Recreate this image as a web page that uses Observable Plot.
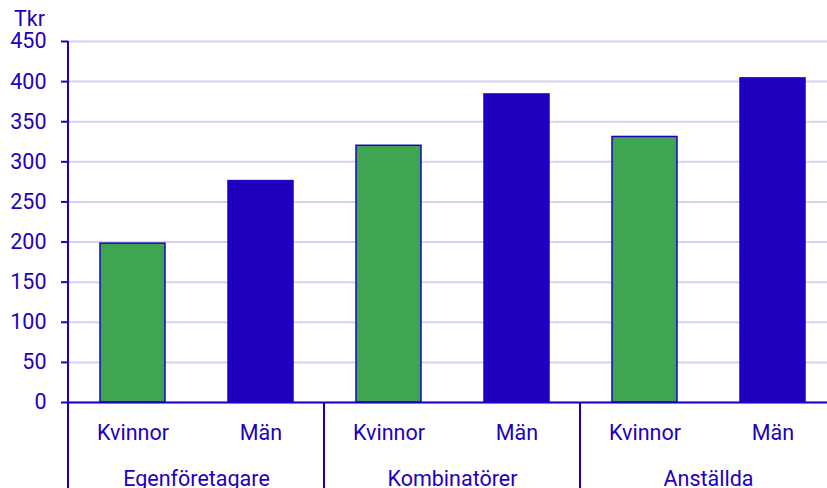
<!DOCTYPE html>
<html><head><meta charset="utf-8">
<script src="https://cdn.jsdelivr.net/npm/d3@7"></script>
<script src="https://cdn.jsdelivr.net/npm/@observablehq/plot@0.6"></script>
<style>html,body{margin:0;padding:0;background:#fff;overflow:hidden;} svg{max-width:none !important;}</style>
</head><body><div id="chart"></div>
<script>
const groups = ["Egenföretagare", "Kombinatörer", "Anställda"];
const genders = ["Kvinnor", "Män"];
const kvinnor = [198, 320, 331];
const man = [276, 384, 404];
const yTicks = [0, 50, 100, 150, 200, 250, 300, 350, 400, 450];
const unit = "Tkr";

const blue = "#1f00bf", green = "#3ea651", gridColor = "#d4d1f2";

const data = groups.flatMap((g, i) => [
  {group: g, gender: genders[0], value: kvinnor[i]},
  {group: g, gender: genders[1], value: man[i]}
]);

const plot = Plot.plot({
  width: 837, height: 488,
  marginLeft: 67.5, marginRight: 0, marginTop: 41, marginBottom: 86,
  style: {fontFamily: "Roboto, sans-serif", fontSize: "21.5px", color: blue, background: "#fff", maxWidth: "none"},
  facet: {data, x: "group"},
  fx: {domain: groups, padding: 0, label: null, tickSize: 0, tickPadding: 68, axis: "bottom"},
  x: {domain: genders, padding: 0, label: null, tickSize: 0, tickPadding: 22},
  y: {domain: [0, 450], label: null},
  color: {domain: genders, range: [green, blue]},
  marks: [
    Plot.gridY(yTicks, {stroke: gridColor, strokeOpacity: 1, strokeWidth: 2}),
    Plot.axisY(yTicks, {tickSize: 7, tickPadding: 15, strokeWidth: 2, label: null}),
    Plot.barY(data, {x: "gender", y: "value", fill: "gender", stroke: blue, strokeWidth: 1.5, insetLeft: 31.5, insetRight: 31.5}),
    Plot.ruleY([0], {stroke: blue, strokeWidth: 2})
  ]
});
document.getElementById("chart").appendChild(plot);

const svg = d3.select(plot);
const fxs = plot.scale("fx"), ys = plot.scale("y");
const fxApply = fxs.apply ? fxs.apply : (g) => {
  const s = d3.scaleBand().domain(fxs.domain).range(fxs.range).paddingInner(fxs.paddingInner || 0).paddingOuter(fxs.paddingOuter || 0);
  return s(g);
};
const yApply = ys.apply ? ys.apply : d3.scaleLinear().domain(ys.domain).range(ys.range);
const H = 488;
groups.forEach((g, i) => {
  const x = fxApply(g);
  svg.append("line")
    .attr("x1", x).attr("x2", x)
    .attr("y1", i === 0 ? yApply(450) : yApply(0)).attr("y2", H)
    .attr("stroke", blue).attr("stroke-width", 2);
});
svg.append("text")
  .attr("x", 45).attr("y", 26)
  .attr("text-anchor", "end")
  .attr("fill", blue)
  .text(unit);
</script>
</body></html>
